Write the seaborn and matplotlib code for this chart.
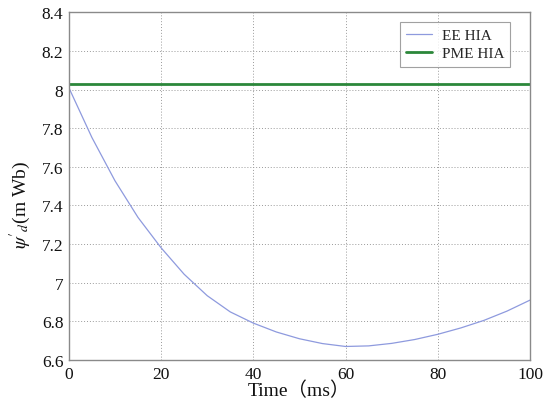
import matplotlib
matplotlib.use("Agg")
import matplotlib.pyplot as plt
import seaborn as sns
import pandas as pd

time_ee = [0, 5, 10, 15, 20, 25, 30, 35, 40, 45, 50, 55, 60, 65, 70, 75, 80, 85, 90, 95, 100]
psi_ee = [8.01, 7.752, 7.528, 7.338, 7.181, 7.044, 6.933, 6.849, 6.791, 6.745, 6.710,
          6.685, 6.670, 6.673, 6.686, 6.706, 6.733, 6.766, 6.805, 6.853, 6.91]
time_pme = [0, 100]
psi_pme = [8.03, 8.03]

sns.set_theme(style="whitegrid")
plt.rcParams['font.family'] = ['Liberation Serif', 'Noto Sans CJK SC']
plt.rcParams['mathtext.fontset'] = 'stix'

fig = plt.figure(figsize=(5.55, 4.02), dpi=100)
ax = fig.add_axes([0.124, 0.102, 0.831, 0.865])

df_ee = pd.DataFrame({"t": time_ee, "v": psi_ee})
df_pme = pd.DataFrame({"t": time_pme, "v": psi_pme})
sns.lineplot(data=df_ee, x="t", y="v", ax=ax, color="#8e9ade", lw=0.9, label="EE HIA")
sns.lineplot(data=df_pme, x="t", y="v", ax=ax, color="#2b873a", lw=2.0, label="PME HIA")

ax.set_xlim(0, 100)
ax.set_ylim(6.6, 8.4)
ax.set_xticks([0, 20, 40, 60, 80, 100])
ax.set_yticks([6.6, 6.8, 7.0, 7.2, 7.4, 7.6, 7.8, 8.0, 8.2, 8.4])
ax.set_yticklabels(["6.6", "6.8", "7", "7.2", "7.4", "7.6", "7.8", "8", "8.2", "8.4"])
ax.set_facecolor("white")
ax.grid(True, color="#9a9a9a", linestyle=(0, (1, 2)), lw=0.7)
for s in ax.spines.values():
    s.set_color("#8a8a8a")
    s.set_linewidth(1.0)
ax.tick_params(axis="both", labelsize=12.5, direction="in", length=4, width=0.8,
               pad=4, colors="#8a8a8a", labelcolor="#111111")

ax.set_xlabel("Time（ms）", fontsize=14, labelpad=-1, color="#111111")
ax.set_ylabel(r"$\psi'_d$(m Wb)", fontsize=14, color="#111111")
ax.yaxis.set_label_coords(-0.078, 0.45)

leg = ax.legend(loc="upper right", bbox_to_anchor=(0.957, 0.971), borderaxespad=0,
                fontsize=11, frameon=True, fancybox=False, handlelength=1.7,
                handletextpad=0.6, labelspacing=0.3, borderpad=0.4)
leg.get_frame().set_edgecolor("#8a8a8a")
leg.get_frame().set_linewidth(0.8)

fig.savefig("out.png", dpi=100, facecolor="white")
